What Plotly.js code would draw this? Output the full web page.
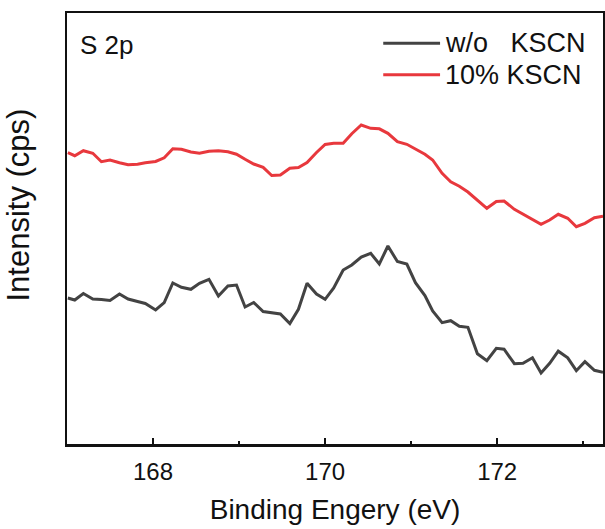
<!DOCTYPE html>
<html>
<head>
<meta charset="utf-8">
<script src="https://cdn.plot.ly/plotly-3.0.1.min.js"></script>
<style>
  html, body { margin: 0; padding: 0; background: #fff; }
  #chart { width: 605px; height: 529px; }
</style>
</head>
<body>
<div id="chart"></div>
<script>
// S 2p XPS spectra: binding energy (eV) and intensity (arbitrary cps units)
const bindingEnergy = [
  167.01, 167.09, 167.19, 167.30, 167.40, 167.50, 167.61, 167.71, 167.82, 167.91,
  168.03, 168.13, 168.23, 168.33, 168.44, 168.54, 168.65, 168.76, 168.87, 168.97,
  169.07, 169.17, 169.28, 169.38, 169.48, 169.59, 169.69, 169.79, 169.90, 170.00,
  170.10, 170.21, 170.31, 170.42, 170.53, 170.63, 170.73, 170.84, 170.95, 171.05,
  171.16, 171.25, 171.36, 171.46, 171.56, 171.66, 171.77, 171.88, 171.99, 172.08,
  172.20, 172.30, 172.41, 172.51, 172.61, 172.71, 172.82, 172.92, 173.02, 173.13,
  173.23
];

const intensityWithout = [
  146.0, 144.0, 150.5, 145.0, 144.5, 143.5, 150.0, 145.0, 142.5, 140.5,
  134.0, 141.3, 161.0, 156.7, 154.7, 160.7, 164.7, 148.0, 158.0, 159.0,
  137.0, 141.5, 132.5, 131.0, 130.0, 120.5, 134.7, 160.7, 150.0, 144.7,
  156.0, 174.0, 179.0, 187.0, 190.7, 180.0, 198.0, 182.5, 180.0, 161.3,
  148.5, 133.0, 121.3, 123.3, 117.7, 116.7, 90.3, 83.3, 95.7, 94.8,
  80.3, 80.7, 86.3, 71.0, 80.7, 92.8, 86.2, 73.3, 82.3, 73.7,
  71.8
];

const intensityKSCN = [
  291.3, 288.3, 293.3, 290.7, 282.3, 284.0, 281.3, 279.2, 279.8, 281.3,
  282.5, 286.2, 295.3, 294.8, 292.0, 290.7, 292.8, 293.2, 292.2, 289.8,
  284.7, 280.0, 276.7, 268.5, 269.0, 275.7, 276.5, 281.5, 291.5, 299.5,
  300.7, 300.7, 310.3, 319.0, 315.7, 315.2, 310.7, 302.3, 299.7, 294.7,
  289.7, 284.0, 270.7, 262.3, 257.7, 252.0, 244.0, 235.7, 242.5, 243.0,
  234.7, 230.0, 224.8, 219.7, 224.0, 229.7, 225.7, 217.3, 220.7, 226.3,
  227.7
];

const seriesNames = ['w/o\u00A0\u00A0\u00A0KSCN', '10% KSCN'];
const seriesColors = ['#434343', '#e8383d'];
const xTickValues = [168, 170, 172];
const xTickLabels = ['168', '170', '172'];

const FONT = 'Liberation Sans, Arial, sans-serif';
const INK = '#111';

const traces = [
  {
    x: bindingEnergy, y: intensityWithout, name: seriesNames[0],
    type: 'scatter', mode: 'lines',
    line: { color: seriesColors[0], width: 3 }
  },
  {
    x: bindingEnergy, y: intensityKSCN, name: seriesNames[1],
    type: 'scatter', mode: 'lines',
    line: { color: seriesColors[1], width: 3 }
  }
];

// Legend keys drawn as short line samples beside their labels
const legendRows = [0.930, 0.857];
const shapes = legendRows.map((yy, i) => ({
  type: 'line', xref: 'paper', yref: 'paper',
  x0: 0.590, x1: 0.696, y0: yy, y1: yy,
  line: { color: seriesColors[i], width: 3 }
}));
const annotations = legendRows.map((yy, i) => ({
  xref: 'paper', yref: 'paper', x: 0.701, y: yy,
  xanchor: 'left', yanchor: 'middle', showarrow: false,
  text: seriesNames[i], font: { family: FONT, size: 27, color: INK }
}));
annotations.push({
  xref: 'paper', yref: 'paper', x: 0.020, y: 0.926,
  xanchor: 'left', yanchor: 'middle', showarrow: false,
  text: 'S 2p', font: { family: FONT, size: 26, color: INK }
});
// vertical intensity label
annotations.push({
  xref: 'paper', yref: 'paper', x: -0.090, y: 0.555,
  xanchor: 'center', yanchor: 'middle', showarrow: false, textangle: -90,
  text: 'Intensity (cps)', font: { family: FONT, size: 31, color: INK }
});

const layout = {
  width: 605, height: 529,
  margin: { l: 67, r: 2, t: 13, b: 85 },
  paper_bgcolor: '#fff', plot_bgcolor: '#fff',
  showlegend: false,
  font: { family: FONT, color: INK },
  xaxis: {
    range: [167, 173.23],
    tickvals: xTickValues, ticktext: xTickLabels,
    ticks: 'inside', ticklen: 6, tickwidth: 2, tickcolor: INK,
    ticklabelstandoff: 5,
    minor: { dtick: 1, tick0: 167, ticks: 'inside', ticklen: 3, tickwidth: 2, tickcolor: INK },
    showline: true, linewidth: 2.5, linecolor: INK, mirror: true,
    showgrid: false, zeroline: false,
    tickfont: { family: FONT, size: 24, color: INK },
    title: { text: 'Binding Engery (eV)', font: { family: FONT, size: 28, color: INK }, standoff: 15 }
  },
  yaxis: {
    range: [0, 431],
    showticklabels: false, ticks: '',
    showline: true, linewidth: 2.5, linecolor: INK, mirror: true,
    showgrid: false, zeroline: false
  },
  shapes: shapes,
  annotations: annotations
};

Plotly.newPlot('chart', traces, layout, { displayModeBar: false, staticPlot: true });
</script>
</body>
</html>
